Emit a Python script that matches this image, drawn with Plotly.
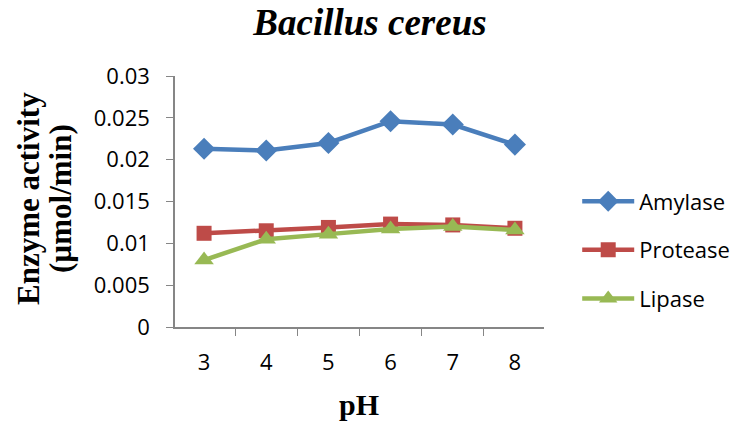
import plotly.graph_objects as go

ph = ["3", "4", "5", "6", "7", "8"]
amylase = [0.0213, 0.0211, 0.0220, 0.0246, 0.0242, 0.0218]
protease = [0.0112, 0.0115, 0.0119, 0.0123, 0.0122, 0.0118]
lipase = [0.0080, 0.0105, 0.0111, 0.0117, 0.0120, 0.0116]

series = [
    ("Amylase", amylase, "#4A7EBB", "diamond", 17),
    ("Protease", protease, "#BE4B48", "square", 15),
    ("Lipase", lipase, "#98B954", "triangle-up", 17),
]

sans = "Open Sans, Noto Sans, sans-serif"
serif = "Liberation Serif, Times New Roman, serif"

fig = go.Figure()
for name, vals, col, sym, sz in series:
    fig.add_trace(go.Scatter(
        x=ph, y=vals, name=name, mode="lines+markers",
        line=dict(color=col, width=4.5),
        marker=dict(symbol=sym, size=sz, color=col),
        legendgroup=name,
    ))

fig.update_layout(
    width=743, height=426,
    margin=dict(l=175, r=199, t=76, b=99, autoexpand=False),
    paper_bgcolor="white", plot_bgcolor="white",
    showlegend=True,
    legend=dict(x=1.09, xanchor="left", y=0.307, yanchor="middle",
                font=dict(family=sans, size=22, color="#000"),
                tracegroupgap=17, itemwidth=52),
    title=dict(text="<b><i>Bacillus cereus</i></b>", x=0.498, xref="container",
               y=0.948, yanchor="middle", xanchor="center",
               font=dict(family=serif, size=37, color="#000")),
    xaxis=dict(type="category", tickson="boundaries", ticks="outside", ticklen=7,
               tickcolor="#868686", showline=True, linecolor="#868686", linewidth=1.5,
               showgrid=False, ticklabelstandoff=15, automargin=False,
               tickfont=dict(family=sans, size=22, color="#000")),
    yaxis=dict(range=[0, 0.03], dtick=0.005, tick0=0, ticks="outside", ticklen=7,
               tickcolor="#868686", showline=True, linecolor="#868686", linewidth=1.5,
               showgrid=False, zeroline=False, ticklabelstandoff=12, automargin=False,
               tickfont=dict(family=sans, size=22, color="#000")),
    annotations=[
        dict(text="<b>Enzyme activity</b>", textangle=-90, xref="paper", yref="paper",
             x=(29 - 175) / 369, y=0.51, xanchor="center", yanchor="middle", showarrow=False,
             font=dict(family=serif, size=31, color="#000")),
        dict(text="<b>(µmol/min)</b>", textangle=-90, xref="paper", yref="paper",
             x=(61 - 175) / 369, y=0.51, xanchor="center", yanchor="middle", showarrow=False,
             font=dict(family=serif, size=31, color="#000")),
        dict(text="<b>pH</b>", xref="paper", yref="paper", x=(359 - 175) / 369, y=(327 - 404) / 251,
             xanchor="center", yanchor="middle", showarrow=False,
             font=dict(family=serif, size=30, color="#000")),
    ],
)

fig.write_html("out.html")
